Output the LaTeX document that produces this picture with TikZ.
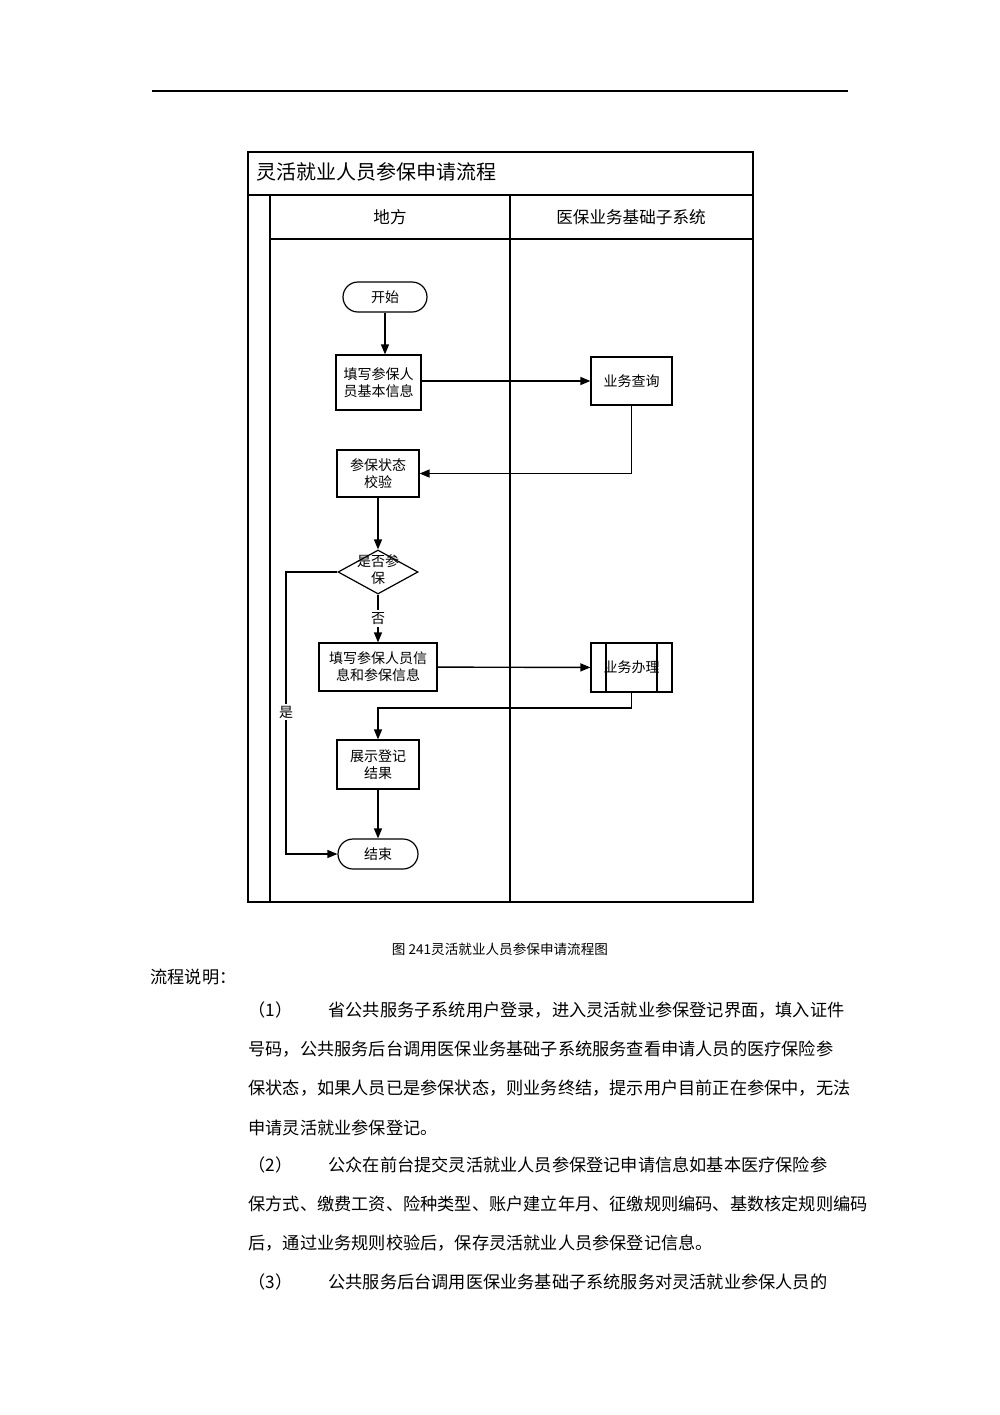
\documentclass[tikz,border=0pt]{standalone}
\usepackage{fontspec}
\setmainfont{Liberation Serif}
\newfontfamily\cjk{Noto Sans CJK SC}
\usetikzlibrary{shapes.geometric,arrows.meta}
\begin{document}
\begin{tikzpicture}[x=0.5pt,y=-0.5pt,
  every node/.style={font=\cjk\fontsize{7}{8.5}\selectfont,align=center,inner sep=0pt},
  boxn/.style={draw,line width=0.6pt,minimum width=#1},
  arr/.style={line width=0.7pt,-{Triangle[length=5pt,width=4pt]}},
  ln/.style={line width=0.6pt},
  body/.style={anchor=west,font=\cjk\fontsize{8.6}{10}\selectfont}]
\useasboundingbox (0,0) rectangle (1000,1415);
\draw[ln] (152,91) -- (848,91);
% frame
\draw[ln] (248,152) rectangle (753,902);
\draw[ln] (248,195) -- (753,195);
\draw[ln] (270,195) -- (270,902);
\draw[ln] (270,239) -- (753,239);
\draw[ln] (510,195) -- (510,902);
\node[anchor=west,font=\cjk\fontsize{10}{12}\selectfont] (title) at (256,172) {灵活就业人员参保申请流程};
\node[font=\cjk\fontsize{8.3}{10}\selectfont] (h1) at (390,217) {地方};
\node[font=\cjk\fontsize{8.3}{10}\selectfont] (h2) at (631,217) {医保业务基础子系统};
% nodes
\node[draw,ln,rounded corners=7.5pt,minimum width=42pt,minimum height=15pt] (start) at (385,297) {开始};
\node[draw,ln,minimum width=42.5pt,minimum height=27.5pt] (fill1) at (378.5,382.5) {填写参保人\\员基本信息};
\node[draw,ln,minimum width=40.5pt,minimum height=24pt] (query) at (631.5,381) {业务查询};
\node[draw,ln,minimum width=41pt,minimum height=23.5pt] (check) at (378,473.5) {参保状态\\校验};
\node[draw,ln,diamond,aspect=1.8,minimum width=40pt,minimum height=22pt,inner sep=0pt] (dec) at (378,572) {};
\node at (378,570) {是否参\\保};
\node[draw,ln,minimum width=59pt,minimum height=24pt] (fill2) at (378,667) {填写参保人员信\\息和参保信息};
\node[draw,ln,minimum width=40.5pt,minimum height=24.5pt] (proc) at (631.5,667.5) {业务办理};
\draw[ln] (606,643) -- (606,692) (657,643) -- (657,692);
\node[draw,ln,minimum width=41pt,minimum height=24.5pt] (show) at (378,764.5) {展示登记\\结果};
\node[draw,ln,rounded corners=7.5pt,minimum width=40pt,minimum height=15pt] (end) at (378,854) {结束};
% edges
\draw[arr] (start) -- (start|-fill1.north);
\draw[arr] (fill1.east|-query) -- (query.west);
\draw[arr] (query.south) |- (check.east);
\draw[arr] (check) -- (dec);
\draw[arr] (dec) -- node[fill=white,inner sep=1pt]{否} (fill2);
\draw[arr] (fill2) -- (proc);
\coordinate (m) at (378,708);
\draw[arr] (proc.south) |- (m) -- (show.north);
\draw[arr] (show) -- (end);
\coordinate (yl) at (286,572);
\draw[arr] (dec.west) -- (yl) |- (end.west);
\node[fill=white,inner sep=1pt] (yes) at (286,712) {是};
% text
\node[font=\cjk\fontsize{6.8}{8}\selectfont] (cap) at (500,949) {图 241灵活就业人员参保申请流程图};
\node[body] (t0) at (150,977) {流程说明：};
\node[body] (n1) at (248,1010) {（1）};
\node[body] (l1) at (328,1010) {省公共服务子系统用户登录，进入灵活就业参保登记界面，填入证件};
\node[body] (l2) at (248,1049) {号码，公共服务后台调用医保业务基础子系统服务查看申请人员的医疗保险参};
\node[body] (l3) at (248,1088) {保状态，如果人员已是参保状态，则业务终结，提示用户目前正在参保中，无法};
\node[body] (l4) at (248,1128) {申请灵活就业参保登记。};
\node[body] (n2) at (248,1165) {（2）};
\node[body] (l5) at (328,1165) {公众在前台提交灵活就业人员参保登记申请信息如基本医疗保险参};
\node[body] (l6) at (248,1204) {保方式、缴费工资、险种类型、账户建立年月、征缴规则编码、基数核定规则编码};
\node[body] (l7) at (248,1243) {后，通过业务规则校验后，保存灵活就业人员参保登记信息。};
\node[body] (n3) at (248,1282) {（3）};
\node[body] (l8) at (328,1282) {公共服务后台调用医保业务基础子系统服务对灵活就业参保人员的};
\end{tikzpicture}
\end{document}
